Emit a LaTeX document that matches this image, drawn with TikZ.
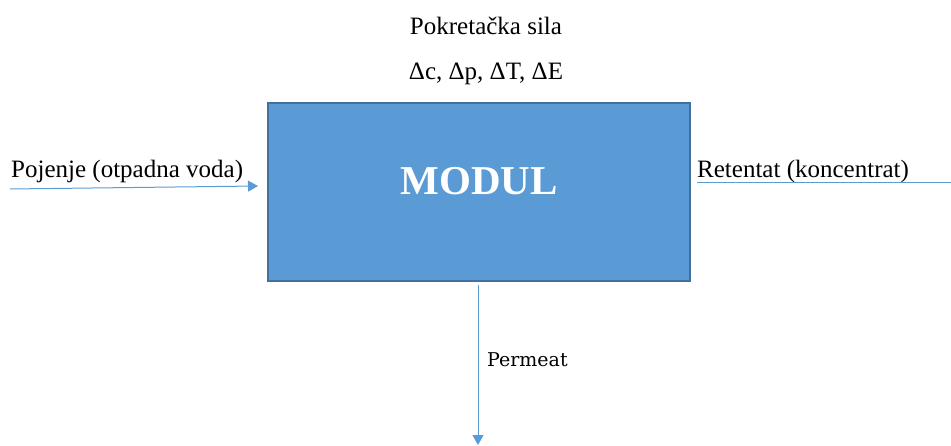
\documentclass[tikz,border=0pt]{standalone}
\usepackage{fontspec}
\setmainfont{Liberation Serif}
\newfontfamily\permfont{DejaVu Serif}
\usetikzlibrary{arrows.meta}
\definecolor{lineblue}{HTML}{5B9BD5}
\definecolor{boxfill}{HTML}{5B9BD5}
\definecolor{boxedge}{HTML}{41719C}
\tikzset{
  flow/.style={draw=lineblue, line width=1pt},
  flowarrow/.style={flow, -{Triangle[length=10pt,width=11pt]}},
  lbl/.style={anchor=base, inner sep=0pt, font=\rmfamily\fontsize{25}{30}\selectfont},
  modbox/.style={draw=boxedge, fill=boxfill, line width=1.8pt, minimum width=422pt, minimum height=178pt, inner sep=0pt}
}
\begin{document}
\begin{tikzpicture}[x=1pt,y=-1pt]
\useasboundingbox (0,0) rectangle (951,446);
\node[modbox] (mod) at (479,192) {};
\node[anchor=base, inner sep=0pt, text=white, font=\rmfamily\fontsize{41}{48}\selectfont\bfseries] (modtxt) at (479,195) {MODUL};
\node[lbl] (sila) at (486,35) {Pokretačka sila};
\node[lbl] (delta) at (486,80) {Δc, Δp, ΔT, ΔE};
\node[lbl, anchor=base west] (poj) at (11,178) {Pojenje (otpadna voda)};
\node[lbl, anchor=base west] (ret) at (697,178) {Retentat (koncentrat)};
\node[anchor=base west, inner sep=0pt, font=\permfont\fontsize{19}{23}\selectfont] (perm) at (487,367) {Permeat};
\coordinate (inS) at (10,189);
\coordinate (inE) at (258,186);
\coordinate (outS) at (697,183);
\coordinate (outE) at (951,183);
\coordinate (permS) at (478,285);
\coordinate (permE) at (478,445);
\draw[flowarrow] (inS) -- (inE);
\draw[flow] (outS) -- (outE);
\draw[flowarrow] (permS) -- (permE);
\end{tikzpicture}
\end{document}
